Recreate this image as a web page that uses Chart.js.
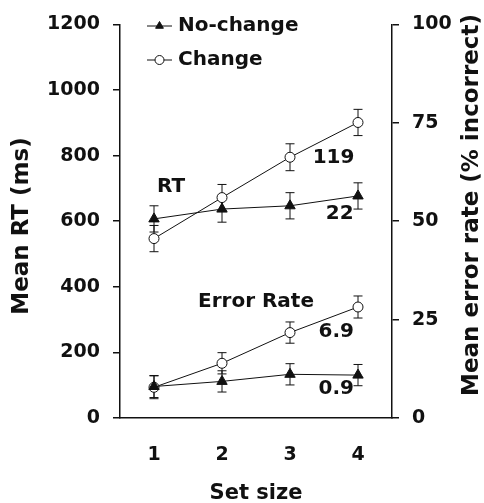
<!DOCTYPE html>
<html>
<head>
<meta charset="utf-8">
<script src="https://cdn.jsdelivr.net/npm/chart.js"></script>
<style>
  html, body { margin: 0; padding: 0; background: #fff; }
  #wrap { width: 484px; height: 503px; }
</style>
</head>
<body>
<div id="wrap"><canvas id="chart" width="484" height="503"></canvas></div>
<script>
// ── Data ──────────────────────────────────────────────────────────────────────
const SET_SIZES       = [1, 2, 3, 4];
const RT_NOCHANGE     = [607, 637, 647, 677];
const RT_NOCHANGE_ERR = [40, 40, 40, 40];
const RT_CHANGE       = [547, 672, 795, 901];
const RT_CHANGE_ERR   = [40, 40, 41, 40];
const ER_NOCHANGE     = [8.0, 9.3, 11.1, 10.9];
const ER_NOCHANGE_ERR = [2.8, 2.7, 2.7, 2.7];
const ER_CHANGE       = [7.8, 13.9, 21.7, 28.2];
const ER_CHANGE_ERR   = [2.9, 2.7, 2.7, 2.8];
const RT_TICKS        = [0, 200, 400, 600, 800, 1000, 1200];
const ER_TICKS        = [0, 25, 50, 75, 100];
const SLOPE_LABELS    = ['119', '22', '6.9', '0.9'];

// ── Style ─────────────────────────────────────────────────────────────────────
const INK  = '#111';
const FONT = 'DejaVu Sans';

const pts = vals => SET_SIZES.map((x, i) => ({ x, y: vals[i] }));

function series(label, vals, err, axis, style) {
  const tri = style === 'triangle';
  return {
    label, data: pts(vals), err, yAxisID: axis,
    borderColor: INK, borderWidth: 1, tension: 0,
    pointStyle: style,
    pointRadius: tri ? 6 : 5,
    pointBackgroundColor: tri ? INK : '#fff',
    pointBorderColor: INK, pointBorderWidth: 1,
  };
}

// ── Error bars (drawn under the markers) ──────────────────────────────────────
const errorBars = {
  id: 'errorBars',
  beforeDatasetsDraw(chart) {
    const ctx = chart.ctx, xs = chart.scales.x;
    ctx.save();
    ctx.strokeStyle = INK;
    ctx.lineWidth = 1;
    chart.data.datasets.forEach(ds => {
      const ys = chart.scales[ds.yAxisID];
      ds.data.forEach((p, i) => {
        const x  = xs.getPixelForValue(p.x);
        const y1 = ys.getPixelForValue(p.y + ds.err[i]);
        const y2 = ys.getPixelForValue(p.y - ds.err[i]);
        ctx.beginPath();
        ctx.moveTo(x, y1); ctx.lineTo(x, y2);
        ctx.moveTo(x - 4.5, y1); ctx.lineTo(x + 4.5, y1);
        ctx.moveTo(x - 4.5, y2); ctx.lineTo(x + 4.5, y2);
        ctx.stroke();
      });
    });
    ctx.restore();
  }
};

// ── Legend, panel labels, slopes, axis titles ────────────────────────────────
const extras = {
  id: 'extras',
  afterDraw(chart) {
    const ctx = chart.ctx, xs = chart.scales.x, y = chart.scales.y, y2 = chart.scales.y2;
    ctx.save();
    ctx.fillStyle = INK;
    ctx.strokeStyle = INK;

    // legend
    const items = chart.data.datasets.slice(0, 2);
    items.forEach((ds, i) => {
      const ly = 26 + i * 34;
      ctx.lineWidth = 1;
      ctx.beginPath(); ctx.moveTo(147, ly); ctx.lineTo(172, ly); ctx.stroke();
      ctx.fillStyle = ds.pointBackgroundColor;
      Chart.helpers.drawPoint(ctx, { pointStyle: ds.pointStyle, radius: 4.5, borderWidth: 1 }, 159.5, ly);
      ctx.fillStyle = INK;
      ctx.font = `bold 20px "${FONT}"`;
      ctx.textAlign = 'left';
      ctx.textBaseline = 'middle';
      ctx.fillText(ds.label, 178, ly);
    });

    // panel labels and slopes
    ctx.font = `bold 20px "${FONT}"`;
    ctx.textAlign = 'center';
    ctx.textBaseline = 'middle';
    const notes = [
      ['RT',            1.25, y,  705],
      ['Error Rate',    2.50, y2, 29.5],
      [SLOPE_LABELS[0], 3.64, y,  793],
      [SLOPE_LABELS[1], 3.73, y,  624],
      [SLOPE_LABELS[2], 3.68, y2, 21.9],
      [SLOPE_LABELS[3], 3.68, y2, 7.5],
    ];
    notes.forEach(([t, xv, sc, yv]) => {
      ctx.fillText(t, xs.getPixelForValue(xv), sc.getPixelForValue(yv));
    });

    // axis titles, both reading upwards
    ctx.font = `bold 23px "${FONT}"`;
    const vtitle = (text, x, cy) => {
      ctx.save();
      ctx.translate(x, cy);
      ctx.rotate(-Math.PI / 2);
      ctx.fillText(text, 0, 0);
      ctx.restore();
    };
    vtitle('Mean RT (ms)', y.left + 22, 226);
    vtitle('Mean error rate (% incorrect)', y2.right - 12, 205);
    ctx.restore();
  }
};

// ── Chart ─────────────────────────────────────────────────────────────────────
const tickFont  = { family: FONT, size: 19, weight: 'bold' };
const plain = v => String(v);

new Chart(document.getElementById('chart'), {
  type: 'line',
  data: {
    datasets: [
      series('No-change', RT_NOCHANGE, RT_NOCHANGE_ERR, 'y',  'triangle'),
      series('Change',    RT_CHANGE,   RT_CHANGE_ERR,   'y',  'circle'),
      series('No-change', ER_NOCHANGE, ER_NOCHANGE_ERR, 'y2', 'triangle'),
      series('Change',    ER_CHANGE,   ER_CHANGE_ERR,   'y2', 'circle'),
    ]
  },
  options: {
    responsive: false,
    animation: false,
    layout: { padding: { top: 20 } },
    plugins: { legend: { display: false }, tooltip: { enabled: false } },
    scales: {
      x: {
        type: 'linear', min: 0.5, max: 4.5,
        afterBuildTicks: s => { s.ticks = SET_SIZES.map(v => ({ value: v })); },
        afterFit: s => { s.height = 85; },
        grid: { display: false },
        border: { display: true, color: INK, width: 1.5 },
        ticks: { color: INK, font: tickFont, padding: 18, callback: plain },
        title: { display: true, text: 'Set size', color: INK,
                 font: { family: FONT, size: 21, weight: 'bold' }, padding: { top: 0, bottom: -3 } },
      },
      y: {
        position: 'left', min: 0, max: 1200,
        afterBuildTicks: s => { s.ticks = RT_TICKS.map(v => ({ value: v })); },
        afterFit: s => { s.width = 120; },
        grid: { drawOnChartArea: false, drawTicks: true, tickLength: 7, color: INK, lineWidth: 1.5 },
        border: { display: true, color: INK, width: 1.5 },
        ticks: { color: INK, font: tickFont, padding: 13, callback: plain },
      },
      y2: {
        position: 'right', min: 0, max: 100,
        afterBuildTicks: s => { s.ticks = ER_TICKS.map(v => ({ value: v })); },
        afterFit: s => { s.width = 92; },
        grid: { drawOnChartArea: false, drawTicks: true, tickLength: 7, color: INK, lineWidth: 1.5 },
        border: { display: true, color: INK, width: 1.5 },
        ticks: { color: INK, font: tickFont, padding: 13, callback: plain },
      },
    },
  },
  plugins: [errorBars, extras],
});
</script>
</body>
</html>
